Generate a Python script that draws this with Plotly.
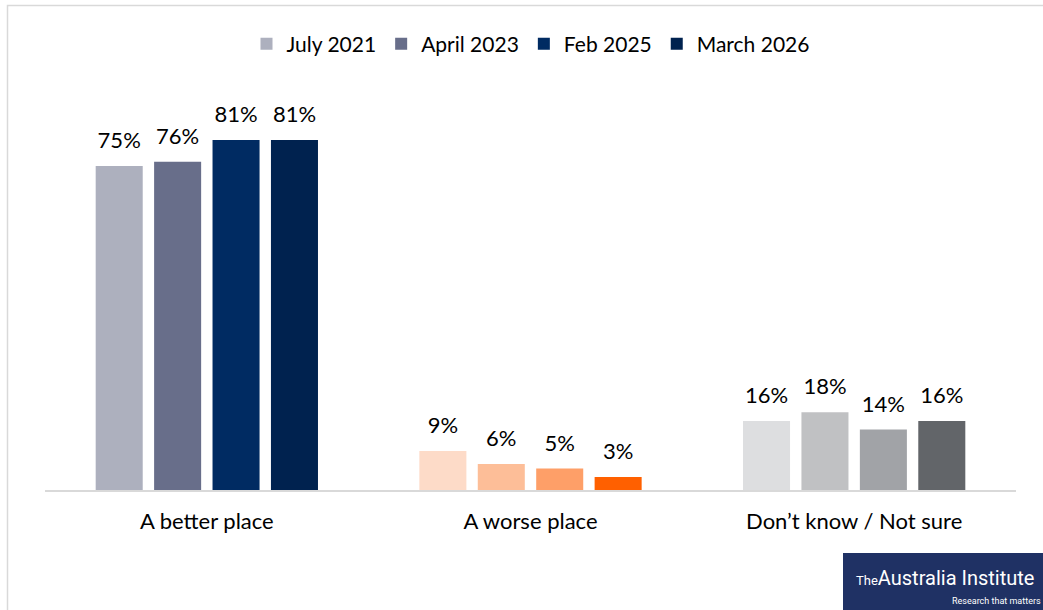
import plotly.graph_objects as go

categories = ["A better place", "A worse place", "Don\u2019t know / Not sure"]
series_names = ["July 2021", "April 2023", "Feb 2025", "March 2026"]
values = {
    "July 2021": [75, 9, 16],
    "April 2023": [76, 6, 18],
    "Feb 2025": [81, 5, 14],
    "March 2026": [81, 3, 16],
}
colors = {
    "July 2021": ["#ADB0BE", "#FDDBC8", "#DDDEE0"],
    "April 2023": ["#686E8A", "#FDBE98", "#C0C1C3"],
    "Feb 2025": ["#002B62", "#FE9F68", "#A1A3A7"],
    "March 2026": ["#00224F", "#FF6000", "#626569"],
}

FONT = "Lato, Open Sans, sans-serif"
W, H = 1043, 610
L, R, T, B = 45, 27, 80, 120
pw, ph = W - L - R, H - T - B

def px_x(px):
    return (px - L) / pw

def px_y(py):
    return (H - B - py) / ph

fig = go.Figure()
for name in series_names:
    fig.add_trace(go.Bar(
        name=name, x=categories, y=values[name],
        marker=dict(color=colors[name], line=dict(width=0)),
        legendgroup=name, hoverinfo="skip",
    ))
for name in series_names:
    fig.add_trace(go.Scatter(
        x=categories, y=values[name], mode="markers+text",
        text=[f"{v}%" for v in values[name]],
        textposition="top center",
        textfont=dict(family=FONT, size=22, color="#000000"),
        marker=dict(size=18, color="rgba(0,0,0,0)", line=dict(width=0)),
        showlegend=False, hoverinfo="skip", legendgroup=name,
    ))

fig.update_layout(
    width=W, height=H,
    margin=dict(l=L, r=R, t=T, b=B),
    paper_bgcolor="white", plot_bgcolor="white",
    barmode="group", bargap=0.278, bargroupgap=0.195,
    scattermode="group", scattergap=0.278,
    font=dict(family=FONT, size=22, color="#000000"),
    showlegend=True,
    legend=dict(
        orientation="h", x=0.5, xanchor="center", y=px_y(44), yanchor="middle",
        font=dict(family=FONT, size=21, color="#000000"),
        itemsizing="constant", traceorder="normal",
    ),
    xaxis=dict(
        showgrid=False, showline=True, linecolor="#D9D9D9", linewidth=2,
        ticks="", tickfont=dict(family=FONT, size=22, color="#000000"),
        ticklabelstandoff=11,
    ),
    yaxis=dict(
        range=[0, ph / 4.32], showgrid=False, showline=False, zeroline=False,
        showticklabels=False, ticks="",
    ),
    shapes=[
        dict(type="rect", xref="paper", yref="paper",
             x0=px_x(7.5), x1=px_x(1060), y0=px_y(5.5), y1=px_y(630),
             line=dict(color="#D9D9D9", width=1.5), fillcolor="rgba(0,0,0,0)", layer="below"),
        dict(type="rect", xref="paper", yref="paper",
             x0=px_x(843), x1=px_x(1050), y0=px_y(553), y1=px_y(615),
             line=dict(width=0), fillcolor="#1F3164", layer="above"),
    ],
    annotations=[
        dict(xref="paper", yref="paper", x=px_x(1036), y=px_y(578), xanchor="right", yanchor="middle",
             text="<span style='font-size:13px'>The</span>Australia Institute",
             showarrow=False, font=dict(family="Roboto, sans-serif", size=20, color="white")),
        dict(xref="paper", yref="paper", x=px_x(1043), y=px_y(601), xanchor="right", yanchor="middle",
             text="Research that matters", showarrow=False,
             font=dict(family="Roboto, sans-serif", size=9, color="white")),
    ],
)

fig.write_html("out.html", post_script="document.body.style.margin='0';",
               config={"displayModeBar": False})
